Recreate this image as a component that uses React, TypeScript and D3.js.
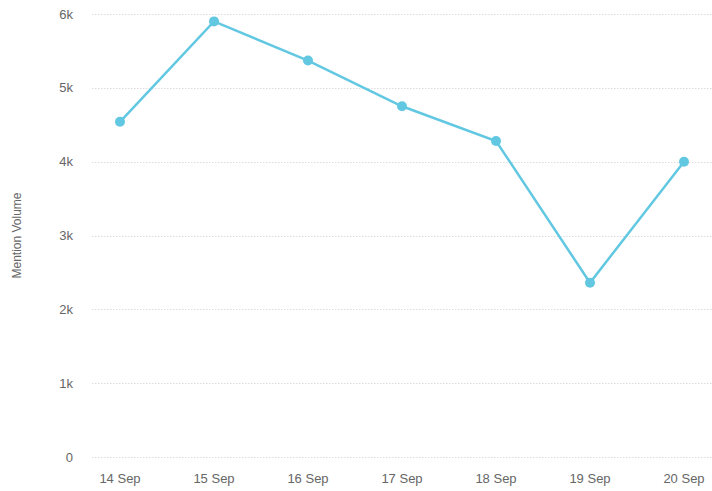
import * as d3 from 'd3';
import { useEffect, useRef } from 'react';

const categories = ['14 Sep', '15 Sep', '16 Sep', '17 Sep', '18 Sep', '19 Sep', '20 Sep'];
const mentionVolume = [4540, 5900, 5370, 4750, 4280, 2360, 4000];
const yTicks = [0, 1000, 2000, 3000, 4000, 5000, 6000];

const width = 712;
const height = 491;

const App = () => {
  const svgRef = useRef<SVGSVGElement | null>(null);

  useEffect(() => {
    const svg = d3.select(svgRef.current);
    svg.selectAll('*').remove();

    // ── Scales ──────────────────────────────────────────────
    const x = d3.scalePoint<string>().domain(categories).range([120, 684]);
    const y = d3.scaleLinear().domain([0, 6000]).range([457, 14]);

    const font = '"Liberation Sans", Arial, sans-serif';

    // ── Grid ────────────────────────────────────────────────
    svg
      .append('g')
      .selectAll('line')
      .data(yTicks)
      .join('line')
      .attr('x1', 92)
      .attr('x2', width)
      .attr('y1', d => Math.round(y(d)) + 0.5)
      .attr('y2', d => Math.round(y(d)) + 0.5)
      .attr('stroke', '#dcdcdc')
      .attr('stroke-width', 1)
      .attr('stroke-dasharray', '1.5 1.5');

    // ── Y labels ────────────────────────────────────────────
    svg
      .append('g')
      .selectAll('text')
      .data(yTicks)
      .join('text')
      .attr('x', 73)
      .attr('y', d => y(d))
      .attr('dy', '0.35em')
      .attr('text-anchor', 'end')
      .attr('font-family', font)
      .attr('font-size', 13)
      .attr('fill', '#666')
      .text(d => (d === 0 ? '0' : `${d / 1000}k`));

    svg
      .append('text')
      .attr('transform', `translate(21,${(y(0) + y(6000)) / 2}) rotate(-90)`)
      .attr('text-anchor', 'middle')
      .attr('font-family', font)
      .attr('font-size', 12)
      .attr('fill', '#666')
      .text('Mention Volume');

    // ── X labels ────────────────────────────────────────────
    svg
      .append('g')
      .selectAll('text')
      .data(categories)
      .join('text')
      .attr('x', d => x(d) as number)
      .attr('y', 483)
      .attr('text-anchor', 'middle')
      .attr('font-family', font)
      .attr('font-size', 13)
      .attr('fill', '#666')
      .text(d => d);

    // ── Line + markers ──────────────────────────────────────
    const points = categories.map((c, i) => ({ c, v: mentionVolume[i] }));
    const line = d3
      .line<{ c: string; v: number }>()
      .x(d => x(d.c) as number)
      .y(d => y(d.v));

    svg
      .append('path')
      .datum(points)
      .attr('d', line)
      .attr('fill', 'none')
      .attr('stroke', '#62c8e2')
      .attr('stroke-width', 2.5);

    svg
      .append('g')
      .selectAll('circle')
      .data(points)
      .join('circle')
      .attr('cx', d => x(d.c) as number)
      .attr('cy', d => y(d.v))
      .attr('r', 5)
      .attr('fill', '#62c8e2');
  }, []);

  return (
    <svg
      ref={svgRef}
      width={width}
      height={height}
      style={{ position: 'absolute', left: 0, top: 0, background: '#fff' }}
    />
  );
};

export default App;
